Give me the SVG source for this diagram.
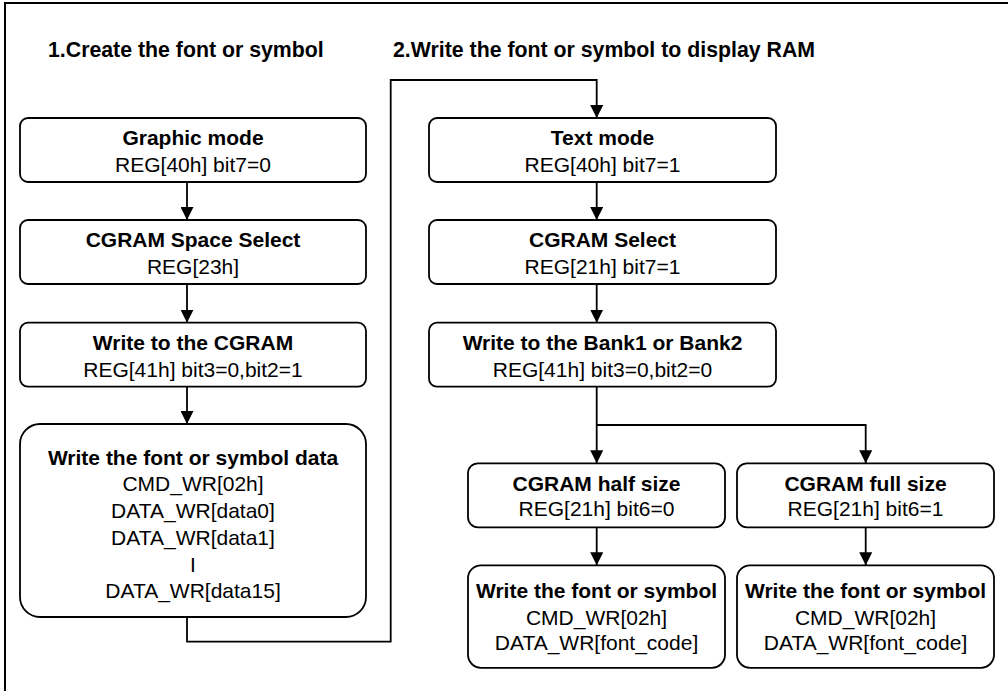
<svg xmlns="http://www.w3.org/2000/svg" width="1008" height="691" viewBox="0 0 1008 691">
<style>
.box{fill:#fff;stroke:#000;stroke-width:1.8}
.ln{fill:none;stroke:#000;stroke-width:1.8}
text{font-family:"Liberation Sans",Arial,sans-serif;font-size:21px;fill:#000}
.b{font-weight:bold}
.h{font-size:21.3px}
.c{text-anchor:middle}
</style>
<defs>
<marker id="ah" viewBox="0 0 13 13" refX="13" refY="6.5" markerWidth="13" markerHeight="13" markerUnits="userSpaceOnUse" orient="auto">
<path d="M0,0 L13,6.5 L0,13 Z" fill="#000"/>
</marker>
</defs>
<rect x="5" y="3" width="1100" height="800" fill="none" stroke="#000" stroke-width="2"/>
<text class="b h" x="48" y="57">1.Create the font or symbol</text>
<text class="b h" x="393" y="57">2.Write the font or symbol to display RAM</text>
<g id="connectors">
<path class="ln" d="M187,182 V220" marker-end="url(#ah)"/>
<path class="ln" d="M187,284 V322.7" marker-end="url(#ah)"/>
<path class="ln" d="M187,386.7 V424" marker-end="url(#ah)"/>
<path class="ln" d="M187,617 V641.7 H390.7 V80 H596.7 V118" marker-end="url(#ah)"/>
<path class="ln" d="M596.7,182 V220" marker-end="url(#ah)"/>
<path class="ln" d="M596.7,284 V322.7" marker-end="url(#ah)"/>
<path class="ln" d="M596.7,386.7 V463.3" marker-end="url(#ah)"/>
<path class="ln" d="M596.7,425 H865.7 V463.3" marker-end="url(#ah)"/>
<path class="ln" d="M596.7,527.3 V565.3" marker-end="url(#ah)"/>
<path class="ln" d="M865.7,527.3 V565.3" marker-end="url(#ah)"/>
</g>
<g id="graphic-mode">
<rect class="box" x="20" y="118" width="346" height="64" rx="8"/>
<text class="b c" x="193" y="145">Graphic mode</text>
<text class="c" x="193" y="172">REG[40h] bit7=0</text>
</g>
<g id="cgram-space-select">
<rect class="box" x="20" y="220" width="346" height="64" rx="8"/>
<text class="b c" x="193" y="247">CGRAM Space Select</text>
<text class="c" x="193" y="274">REG[23h]</text>
</g>
<g id="write-cgram">
<rect class="box" x="20" y="322.7" width="346" height="64" rx="8"/>
<text class="b c" x="193" y="349.5">Write to the CGRAM</text>
<text class="c" x="193" y="376.5">REG[41h] bit3=0,bit2=1</text>
</g>
<g id="write-data">
<rect class="box" x="20" y="424" width="346" height="193" rx="20"/>
<text class="b c" x="193" y="465">Write the font or symbol data</text>
<text class="c" x="193" y="491">CMD_WR[02h]</text>
<text class="c" x="193" y="518">DATA_WR[data0]</text>
<text class="c" x="193" y="545">DATA_WR[data1]</text>
<text class="c" x="193" y="572">I</text>
<text class="c" x="193" y="598">DATA_WR[data15]</text>
</g>
<g id="text-mode">
<rect class="box" x="429" y="118" width="347" height="64" rx="8"/>
<text class="b c" x="602.5" y="145">Text mode</text>
<text class="c" x="602.5" y="172">REG[40h] bit7=1</text>
</g>
<g id="cgram-select">
<rect class="box" x="429" y="220" width="347" height="64" rx="8"/>
<text class="b c" x="602.5" y="247">CGRAM Select</text>
<text class="c" x="602.5" y="274">REG[21h] bit7=1</text>
</g>
<g id="write-bank">
<rect class="box" x="429" y="322.7" width="347" height="64" rx="8"/>
<text class="b c" x="602.5" y="349.5">Write to the Bank1 or Bank2</text>
<text class="c" x="602.5" y="376.5">REG[41h] bit3=0,bit2=0</text>
</g>
<g id="half-size">
<rect class="box" x="468" y="463.3" width="257" height="64" rx="10"/>
<text class="b c" x="596.5" y="491">CGRAM half size</text>
<text class="c" x="596.5" y="516">REG[21h] bit6=0</text>
</g>
<g id="full-size">
<rect class="box" x="737" y="463.3" width="257" height="64" rx="10"/>
<text class="b c" x="865.5" y="491">CGRAM full size</text>
<text class="c" x="865.5" y="516">REG[21h] bit6=1</text>
</g>
<g id="write-half">
<rect class="box" x="468" y="565.3" width="257" height="102.5" rx="13"/>
<text class="b c" x="596.5" y="598">Write the font or symbol</text>
<text class="c" x="596.5" y="625">CMD_WR[02h]</text>
<text class="c" x="596.5" y="650">DATA_WR[font_code]</text>
</g>
<g id="write-full">
<rect class="box" x="737" y="565.3" width="257" height="102.5" rx="13"/>
<text class="b c" x="865.5" y="598">Write the font or symbol</text>
<text class="c" x="865.5" y="625">CMD_WR[02h]</text>
<text class="c" x="865.5" y="650">DATA_WR[font_code]</text>
</g>
</svg>
